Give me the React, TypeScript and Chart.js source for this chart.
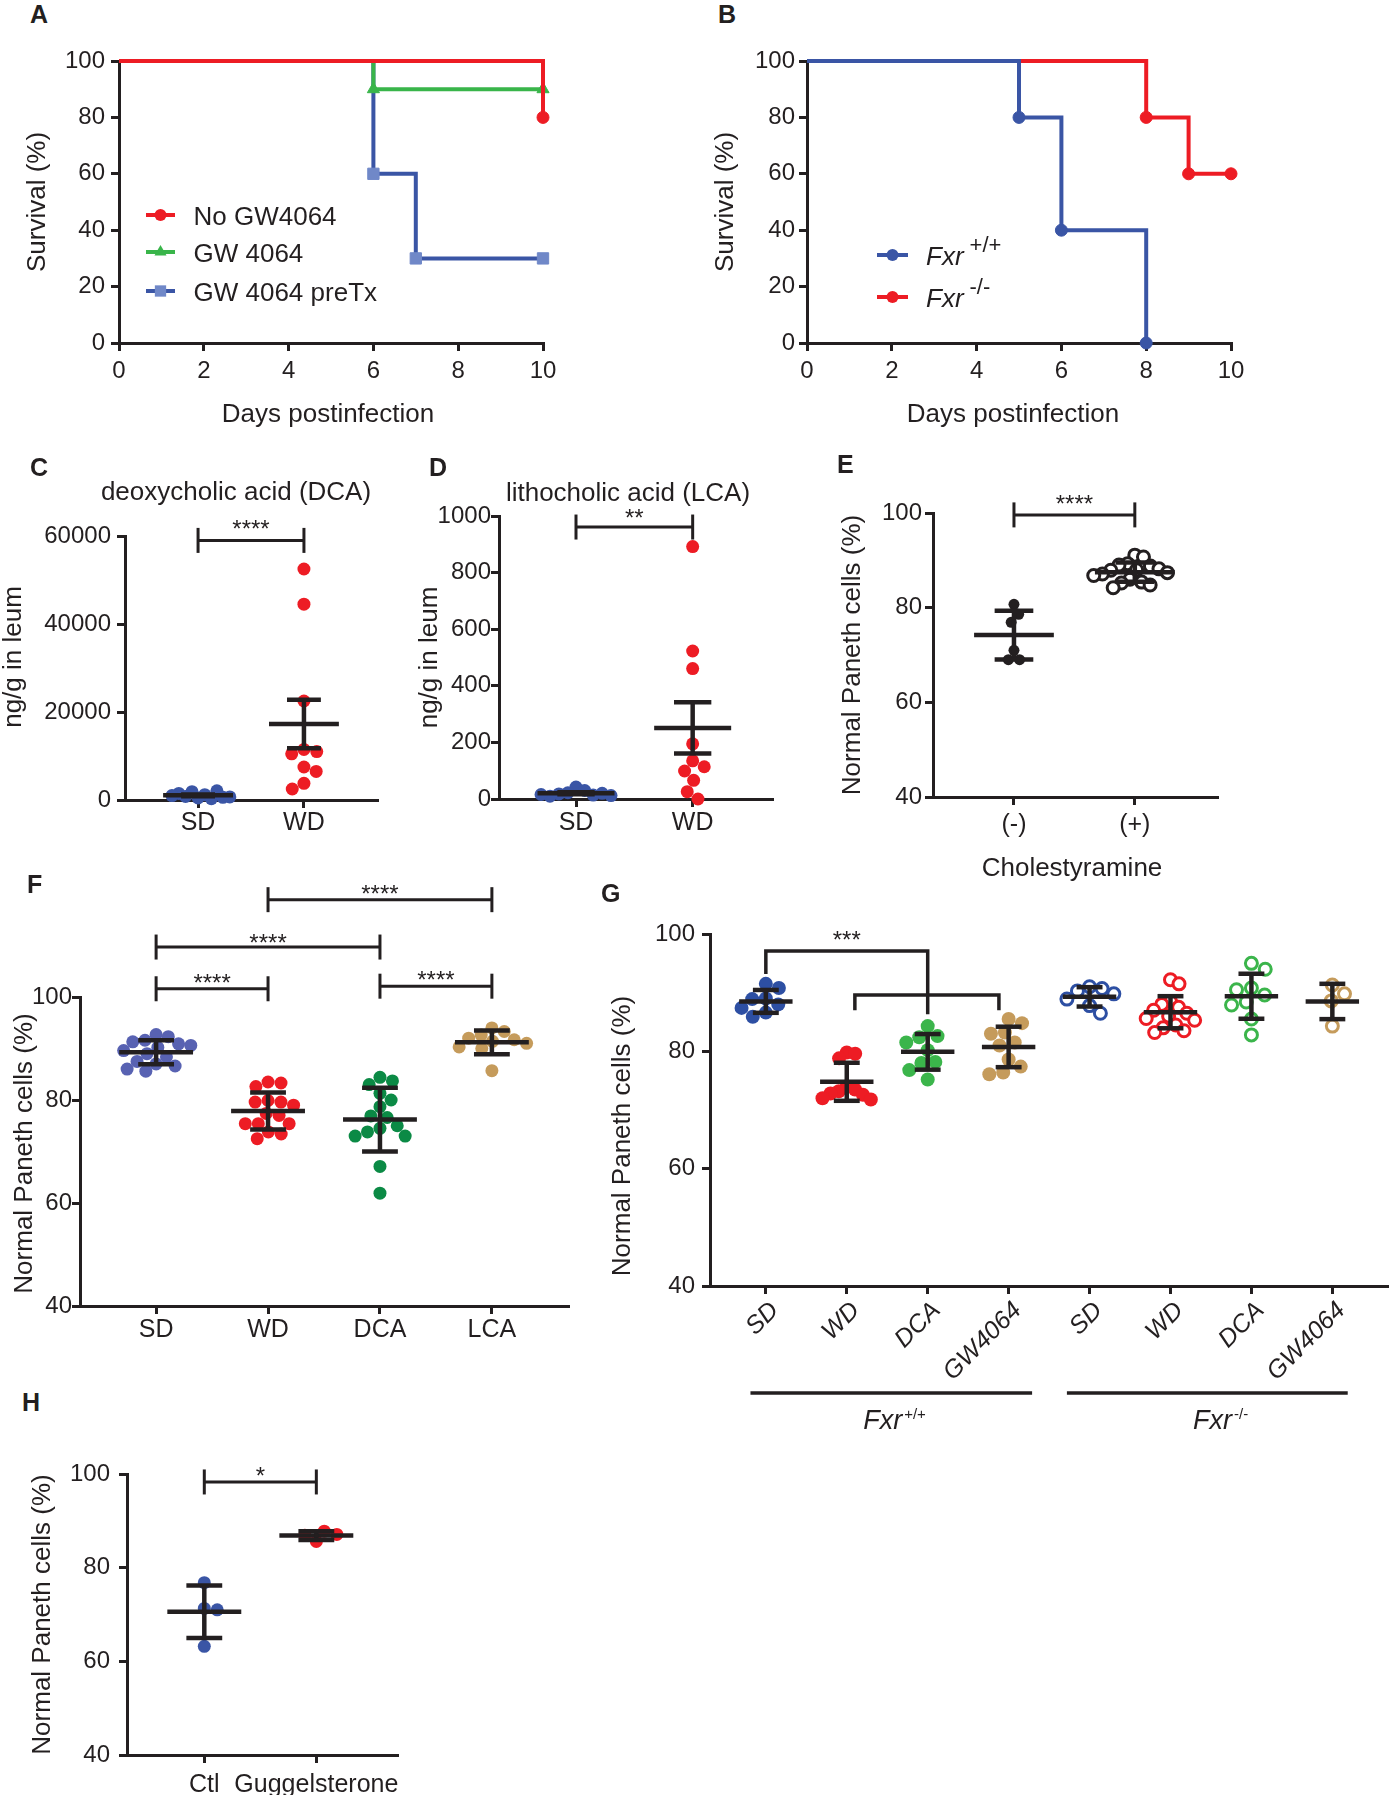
import React, { useEffect, useRef } from "react";
import { Chart, registerables } from "chart.js";

Chart.register(...registerables);

const FONT = '"Liberation Sans", Arial, Helvetica, sans-serif';
const INK = "#231f20";
const RED = "#ed1c24";
const BLUE = "#3a55a5";
const GREEN = "#39b54a";
const SQUARE_BLUE = "#7088c8";
const SLATE = "#5862b2";
const DGREEN = "#0b8a45";
const TAN = "#c59b5b";
const GBLUE = "#2d4fa3";
const GGREEN = "#3bb54b";

// ---------------- data ----------------
// A: survival with GW4064
const daysNoGW = [0, 10];
const survNoGW = [100, 80];
const daysGW = [0, 6, 10];
const survGW = [100, 90, 90];
const daysPreTx = [0, 6, 7, 10];
const survPreTx = [100, 60, 30, 30];
const namesA = ["No GW4064", "GW 4064", "GW 4064 preTx"];
// B: survival by genotype
const daysFxrWT = [0, 5, 6, 8];
const survFxrWT = [100, 80, 40, 0];
const daysFxrKO = [0, 8, 9, 10];
const survFxrKO = [100, 80, 60, 60];
const genotypeSup = ["+/+", "-/-"];
const dayTicks = [0, 2, 4, 6, 8, 10];
const survTicks = [0, 20, 40, 60, 80, 100];
// C: DCA
const dietCats = ["SD", "WD"];
const dcaSD = [450, 1200, 1900, 800, 300, 1500, 2100, 600, 1000, 700];
const dcaWD = [52500, 44500, 22500, 11500, 11000, 10500, 7500, 6500, 3800, 2500];
const dcaTicks = [0, 20000, 40000, 60000];
// D: LCA
const lcaSD = [42, 30, 22, 18, 14, 20, 10, 16, 12];
const lcaWD = [892, 523, 461, 195, 135, 114, 99, 66, 26, 0];
const lcaTicks = [0, 200, 400, 600, 800, 1000];
// E: cholestyramine
const cholCats = ["(-)", "(+)"];
const cholMinus = [80.7, 78.6, 76.9, 71.0, 69.0, 69.0];
const cholPlus = [91.1, 90.7, 89.3, 89.0, 88.8, 88.2, 88.0, 87.9, 87.4, 87.1, 86.8, 86.0, 85.4, 85.2, 84.8, 84.2];
const pctTicks = [40, 60, 80, 100];
// F
const fCats = ["SD", "WD", "DCA", "LCA"];
const fSD = [92.7, 92.3, 91.6, 91.3, 90.9, 90.6, 90.2, 89.6, 89.0, 88.4, 87.5, 87.0, 86.6, 86.0, 85.6];
const fWD = [83.5, 83.3, 82.6, 79.9, 79.6, 79.6, 79.0, 77.4, 77.0, 75.4, 75.4, 75.4, 73.8, 73.4, 72.5];
const fDCA = [84.4, 83.7, 83.0, 81.3, 80.0, 78.7, 76.9, 76.6, 75.0, 74.5, 73.8, 73.0, 73.0, 67.1, 61.9];
const fLCA = [94.0, 93.3, 92.6, 92.0, 91.7, 91.4, 91.0, 90.3, 90.0, 85.7];
// G
const gCats = ["SD", "WD", "DCA", "GW4064", "SD", "WD", "DCA", "GW4064"];
const gWtSD = [91.5, 90.8, 89.0, 88.9, 88.0, 87.4, 86.6, 85.9];
const gWtWD = [79.8, 79.6, 78.8, 74.0, 73.5, 73.2, 72.8, 72.6, 72.0, 71.8];
const gWtDCA = [84.3, 82.6, 82.4, 81.5, 80.2, 78.2, 78.0, 76.8, 75.2];
const gWtGW = [85.5, 84.8, 83.2, 83.0, 81.5, 81.0, 78.6, 77.4, 76.4, 76.1];
const gKoSD = [91.0, 90.7, 90.3, 89.8, 88.9, 87.8, 86.5];
const gKoWD = [92.2, 91.5, 88.5, 88.0, 87.5, 87.0, 86.5, 86.0, 85.6, 85.3, 84.5, 84.0, 83.5, 83.2];
const gKoDCA = [95.0, 94.0, 90.8, 90.5, 89.6, 88.4, 87.9, 85.5, 82.8];
const gKoGW = [91.3, 89.8, 88.6, 84.3];
const gGroupLabels = ["Fxr", "Fxr"];
const gBracketTop = 97.1;
const gBracketLow = 89.6;
// H
const hCats = ["Ctl", "Guggelsterone"];
const hCtl = [76.8, 71.3, 71.0, 63.2];
const hGug = [85.6, 87.8, 86.9, 87.1];

// ---------------- helpers ----------------
type Rect = { l: number; t: number; r: number; b: number };

function stats(v: number[]) {
  const n = v.length;
  const mean = v.reduce((s, x) => s + x, 0) / n;
  const sd = Math.sqrt(v.reduce((s, x) => s + (x - mean) * (x - mean), 0) / (n - 1));
  return { mean, sd, sem: sd / Math.sqrt(n) };
}

function line(ctx: any, x1: number, y1: number, x2: number, y2: number) {
  ctx.beginPath();
  ctx.moveTo(x1, y1);
  ctx.lineTo(x2, y2);
  ctx.stroke();
}

function marker(ctx: any, style: string, x: number, y: number, r: number, color: string) {
  ctx.fillStyle = color;
  ctx.beginPath();
  if (style === "rect") {
    const s = r * Math.SQRT1_2;
    ctx.rect(x - s, y - s, 2 * s, 2 * s);
  } else if (style === "triangle") {
    let a = 0;
    ctx.moveTo(x + Math.sin(a) * r, y - Math.cos(a) * r);
    a += (2 * Math.PI) / 3;
    ctx.lineTo(x + Math.sin(a) * r, y - Math.cos(a) * r);
    a += (2 * Math.PI) / 3;
    ctx.lineTo(x + Math.sin(a) * r, y - Math.cos(a) * r);
    ctx.closePath();
  } else {
    ctx.arc(x, y, r, 0, Math.PI * 2);
  }
  ctx.fill();
}

function axisStyle() {
  return {
    border: { display: true, color: INK, width: 3 },
    grid: { display: true, drawOnChartArea: false, drawTicks: true, tickLength: 8, color: INK, lineWidth: 3 },
  };
}

function yTitle(chart: any, text: string, dx: number, dy: number) {
  const ctx = chart.ctx;
  const a = chart.chartArea;
  ctx.save();
  ctx.translate(a.left + dx, (a.top + a.bottom) / 2 + dy);
  ctx.rotate(-Math.PI / 2);
  ctx.font = `26px ${FONT}`;
  ctx.fillStyle = INK;
  ctx.textAlign = "center";
  ctx.textBaseline = "middle";
  ctx.fillText(text, 0, 0);
  ctx.restore();
}

function plainText(ctx: any, text: string, x: number, y: number, font: string, align = "center") {
  ctx.font = font;
  ctx.fillStyle = INK;
  ctx.textAlign = align;
  ctx.textBaseline = "alphabetic";
  ctx.fillText(text, x, y);
}

function supText(ctx: any, main: string, sup: string, x: number, y: number, size: number, supSize: number, raise: number, align: string, gap = 2) {
  ctx.textBaseline = "alphabetic";
  ctx.font = `italic ${size}px ${FONT}`;
  const w1 = ctx.measureText(main).width;
  ctx.font = `${supSize}px ${FONT}`;
  const w2 = ctx.measureText(sup).width;
  const x0 = align === "center" ? x - (w1 + w2 + gap) / 2 : x;
  ctx.fillStyle = INK;
  ctx.textAlign = "left";
  ctx.font = `italic ${size}px ${FONT}`;
  ctx.fillText(main, x0, y);
  ctx.font = `${supSize}px ${FONT}`;
  ctx.fillText(sup, x0 + w1 + gap, y - raise);
}

// beeswarm: horizontal offsets (px) so that dots do not collide
function swarm(pys: number[], d: number): number[] {
  const placed: { x: number; y: number }[] = [];
  const out: number[] = [];
  let side = 1;
  for (const y of pys) {
    const iv: [number, number][] = [];
    for (const p of placed) {
      const dy = Math.abs(p.y - y);
      if (dy < d) {
        const w = Math.sqrt(d * d - dy * dy);
        iv.push([p.x - w, p.x + w]);
      }
    }
    const cands = [0];
    iv.forEach(([lo, hi]) => cands.push(lo, hi));
    const free = (x: number) => iv.every(([lo, hi]) => x <= lo + 1e-6 || x >= hi - 1e-6);
    let best = Infinity;
    for (const c of cands) {
      if (!free(c)) continue;
      const ac = Math.abs(c);
      const ab = Math.abs(best);
      if (ac < ab - 1e-6 || (Math.abs(ac - ab) <= 1e-6 && Math.sign(c) === side)) best = c;
    }
    if (best !== 0) side = -Math.sign(best);
    placed.push({ x: best, y });
    out.push(best);
  }
  return out;
}

// ---------------- survival panels ----------------
type Surv = { days: number[]; surv: number[]; color: string; marker: string; mColor: string; r: number };
type SurvSpec = { area: Rect; m: Rect; yW: number; xH: number; yPad: number; series: Surv[]; xTitleDx: number; legend: (c: any) => void };

const seriesA: Surv[] = [
  { days: daysNoGW, surv: survNoGW, color: RED, marker: "circle", mColor: RED, r: 6 },
  { days: daysGW, surv: survGW, color: GREEN, marker: "triangle", mColor: GREEN, r: 7 },
  { days: daysPreTx, surv: survPreTx, color: BLUE, marker: "rect", mColor: SQUARE_BLUE, r: 8 },
];
const seriesB: Surv[] = [
  { days: daysFxrWT, surv: survFxrWT, color: BLUE, marker: "circle", mColor: BLUE, r: 6 },
  { days: daysFxrKO, surv: survFxrKO, color: RED, marker: "circle", mColor: RED, r: 6 },
];

function legendA(chart: any) {
  const ctx = chart.ctx;
  const a = chart.chartArea;
  const rows = [154, 191, 230];
  seriesA.forEach((s, i) => {
    const y = a.top + rows[i];
    ctx.strokeStyle = s.color;
    ctx.lineWidth = 4;
    line(ctx, a.left + 27, y, a.left + 56, y);
    marker(ctx, s.marker, a.left + 41.5, y, s.r, s.mColor);
    plainText(ctx, namesA[i], a.left + 74.5, y + 10, `26px ${FONT}`, "left");
  });
}

function legendB(chart: any) {
  const ctx = chart.ctx;
  const a = chart.chartArea;
  const rows = [194, 236];
  seriesB.forEach((s, i) => {
    const y = a.top + rows[i];
    ctx.strokeStyle = s.color;
    ctx.lineWidth = 4;
    line(ctx, a.left + 70, y, a.left + 101, y);
    marker(ctx, s.marker, a.left + 85.5, y, s.r, s.mColor);
    supText(ctx, "Fxr", genotypeSup[i], a.left + 119, y + 10, 26, 22, 13, "left", 6);
  });
}

const specA: SurvSpec = {
  area: { l: 119, t: 61, r: 543, b: 343 }, m: { l: 115, t: 25, r: 40, b: 95 }, yW: 60, xH: 50, yPad: 6,
  series: seriesA, xTitleDx: 209, legend: legendA,
};
const specB: SurvSpec = {
  area: { l: 807, t: 61, r: 1231, b: 343 }, m: { l: 110, t: 25, r: 40, b: 95 }, yW: 60, xH: 50, yPad: 4,
  series: seriesB, xTitleDx: 206, legend: legendB,
};

function survConfig(sp: SurvSpec) {
  return {
    type: "line",
    data: {
      datasets: sp.series.map((s) => ({
        data: s.days.map((d, i) => ({ x: d, y: s.surv[i] })),
        borderColor: s.color,
        borderWidth: 4,
        stepped: "before",
        fill: false,
        tension: 0,
        pointStyle: s.marker,
        pointRadius: (c: any) => (c.dataIndex === 0 ? 0 : s.r),
        pointHoverRadius: (c: any) => (c.dataIndex === 0 ? 0 : s.r),
        pointBackgroundColor: s.mColor,
        pointBorderColor: s.mColor,
        pointBorderWidth: 1,
        clip: false,
      })),
    },
    options: {
      responsive: false,
      animation: false,
      devicePixelRatio: 1,
      events: [],
      layout: { padding: { left: sp.m.l - sp.yW, top: sp.m.t, right: sp.m.r, bottom: sp.m.b - sp.xH } },
      plugins: { legend: { display: false }, tooltip: { enabled: false }, title: { display: false } },
      scales: {
        x: {
          type: "linear", min: 0, max: 10, bounds: "data", ...axisStyle(),
          afterBuildTicks: (ax: any) => { ax.ticks = dayTicks.map((v) => ({ value: v })); },
          afterFit: (ax: any) => { ax.height = sp.xH; },
          ticks: { padding: 6, color: INK, font: { family: FONT, size: 24 }, callback: (v: any) => String(v) },
        },
        y: {
          type: "linear", min: 0, max: 100, bounds: "data", ...axisStyle(),
          afterBuildTicks: (ax: any) => { ax.ticks = survTicks.map((v) => ({ value: v })); },
          afterFit: (ax: any) => { ax.width = sp.yW; },
          ticks: { padding: sp.yPad, color: INK, font: { family: FONT, size: 24 }, callback: (v: any) => String(v) },
        },
      },
    },
    plugins: [
      {
        id: "survDecor",
        afterDraw: (chart: any) => {
          const ctx = chart.ctx;
          const a = chart.chartArea;
          ctx.save();
          yTitle(chart, "Survival (%)", -81, 0);
          plainText(ctx, "Days postinfection", a.left + sp.xTitleDx, a.bottom + 79, `26px ${FONT}`);
          sp.legend(chart);
          ctx.restore();
        },
      },
    ],
  };
}

// ---------------- column scatter panels ----------------
type Group = { values: number[]; color: string; r: number; open?: boolean };
type Bracket = { a: number; b: number; y: number; label: string; dy: number };
type ColSpec = {
  area: Rect; m: Rect; yW: number; xH: number;
  yMin: number; yMax: number; yTicks: number[]; yPad: number;
  cats: string[]; xMin: number; xMax: number; xPad: number; rot?: number; italic?: boolean; labelOffset?: number;
  groups: Group[]; err: "sd" | "sem"; spread?: number;
  yTitle: string; yTitleDx: number; yTitleDy: number;
  brackets: Bracket[];
  topTitle?: { text: string; dx: number; dy: number };
  xTitle?: { text: string; dx: number; dy: number };
  extra?: (c: any) => void;
};

function colConfig(s: ColSpec) {
  return {
    type: "scatter",
    data: {
      datasets: s.groups.map((g, i) => ({
        data: g.values.map((v) => ({ x: i, y: v })),
        pointRadius: g.r,
        pointHoverRadius: g.r,
        pointBackgroundColor: g.open ? "#ffffff" : g.color,
        pointBorderColor: g.color,
        pointBorderWidth: g.open ? 3 : 0,
        showLine: false,
        clip: false,
      })),
    },
    options: {
      responsive: false,
      animation: false,
      devicePixelRatio: 1,
      events: [],
      layout: { padding: { left: s.m.l - s.yW, top: s.m.t, right: s.m.r, bottom: s.m.b - s.xH } },
      plugins: { legend: { display: false }, tooltip: { enabled: false }, title: { display: false } },
      scales: {
        x: {
          type: "linear", min: s.xMin, max: s.xMax, bounds: "data", ...axisStyle(),
          afterBuildTicks: (ax: any) => { ax.ticks = s.cats.map((_, i) => ({ value: i })); },
          afterFit: (ax: any) => { ax.height = s.xH; },
          ticks: {
            autoSkip: false, padding: s.xPad, color: INK, labelOffset: s.labelOffset || 0,
            font: { family: FONT, size: 25, style: s.italic ? "italic" : "normal" },
            minRotation: s.rot || 0, maxRotation: s.rot || 0,
            callback: (v: any) => (s.cats[v] !== undefined ? s.cats[v] : ""),
          },
        },
        y: {
          type: "linear", min: s.yMin, max: s.yMax, bounds: "data", ...axisStyle(),
          afterBuildTicks: (ax: any) => { ax.ticks = s.yTicks.map((v) => ({ value: v })); },
          afterFit: (ax: any) => { ax.width = s.yW; },
          ticks: { padding: s.yPad, color: INK, font: { family: FONT, size: 24 }, callback: (v: any) => String(v) },
        },
      },
    },
    plugins: [{ id: "colDecor", afterDraw: (chart: any) => colDecor(chart, s) }],
  };
}

function colDecor(chart: any, s: ColSpec) {
  const ctx = chart.ctx;
  const a = chart.chartArea;
  const xs = chart.scales.x;
  const ys = chart.scales.y;
  ctx.save();
  ctx.strokeStyle = INK;
  ctx.lineCap = "butt";
  s.groups.forEach((g, i) => {
    const st = stats(g.values);
    const e = s.err === "sd" ? st.sd : st.sem;
    const cx = xs.getPixelForValue(i);
    const hw = xs.getPixelForValue(i + 0.33) - cx;
    const cw = xs.getPixelForValue(i + 0.16) - cx;
    const yM = ys.getPixelForValue(st.mean);
    const yT = ys.getPixelForValue(st.mean + e);
    const yB = ys.getPixelForValue(st.mean - e);
    ctx.lineWidth = 4.5;
    line(ctx, cx - hw, yM, cx + hw, yM);
    line(ctx, cx, yT, cx, yB);
    line(ctx, cx - cw, yT, cx + cw, yT);
    line(ctx, cx - cw, yB, cx + cw, yB);
  });
  for (const b of s.brackets) {
    const x1 = xs.getPixelForValue(b.a);
    const x2 = xs.getPixelForValue(b.b);
    const y = ys.getPixelForValue(b.y);
    ctx.lineWidth = 3;
    line(ctx, x1, y, x2, y);
    line(ctx, x1, y - 12.5, x1, y + 12.5);
    line(ctx, x2, y - 12.5, x2, y + 12.5);
    plainText(ctx, b.label, (x1 + x2) / 2, y + b.dy, `24px ${FONT}`);
  }
  yTitle(chart, s.yTitle, s.yTitleDx, s.yTitleDy);
  if (s.topTitle) plainText(ctx, s.topTitle.text, a.left + s.topTitle.dx, a.top + s.topTitle.dy, `26px ${FONT}`);
  if (s.xTitle) plainText(ctx, s.xTitle.text, a.left + s.xTitle.dx, a.bottom + s.xTitle.dy, `26px ${FONT}`);
  if (s.extra) s.extra(chart);
  ctx.restore();
}

function applySwarm(chart: any, s: ColSpec) {
  const xs = chart.scales.x;
  const ys = chart.scales.y;
  const unit = xs.getPixelForValue(1) - xs.getPixelForValue(0);
  s.groups.forEach((g, i) => {
    const pys = g.values.map((v) => ys.getPixelForValue(v));
    const dia = 2 * (g.r + (g.open ? 1.5 : 0));
    let offs = swarm(pys, dia);
    const maxHalf = (s.spread || 0.3) * unit;
    const mx = Math.max(...offs.map((o) => Math.abs(o)));
    if (mx > maxHalf) offs = offs.map((o) => (o * maxHalf) / mx);
    chart.data.datasets[i].data = g.values.map((v, j) => ({ x: i + offs[j] / unit, y: v }));
  });
  chart.update("none");
}

function gExtra(chart: any) {
  const ctx = chart.ctx;
  const a = chart.chartArea;
  const xs = chart.scales.x;
  const ys = chart.scales.y;
  const X = (v: number) => xs.getPixelForValue(v);
  const Y = (v: number) => ys.getPixelForValue(v);
  ctx.strokeStyle = INK;
  ctx.lineWidth = 3.5;
  ctx.lineJoin = "miter";
  ctx.beginPath();
  ctx.moveTo(X(0), Y(93.2));
  ctx.lineTo(X(0), Y(gBracketTop));
  ctx.lineTo(X(2), Y(gBracketTop));
  ctx.lineTo(X(2), Y(86.3));
  ctx.stroke();
  ctx.beginPath();
  ctx.moveTo(X(1.1), Y(87.0));
  ctx.lineTo(X(1.1), Y(gBracketLow));
  ctx.lineTo(X(2.88), Y(gBracketLow));
  ctx.lineTo(X(2.88), Y(87.0));
  ctx.stroke();
  plainText(ctx, "***", X(1), Y(gBracketTop) - 3, `24px ${FONT}`);
  // genotype underlines
  const uy = a.bottom + 107;
  line(ctx, X(-0.19), uy, X(3.29), uy);
  line(ctx, X(3.72), uy, X(7.19), uy);
  supText(ctx, gGroupLabels[0], genotypeSup[0], X(1.59), a.bottom + 143, 27, 15, 10, "center");
  supText(ctx, gGroupLabels[1], genotypeSup[1], X(5.62), a.bottom + 143, 27, 15, 10, "center");
}

const specC: ColSpec = {
  area: { l: 125, t: 536, r: 377, b: 800 }, m: { l: 125, t: 70, r: 20, b: 50 }, yW: 85, xH: 45,
  yMin: 0, yMax: 60000, yTicks: dcaTicks, yPad: 6,
  cats: dietCats, xMin: -0.69, xMax: 1.69, xPad: 0,
  groups: [{ values: dcaSD, color: BLUE, r: 6.5 }, { values: dcaWD, color: RED, r: 6.5 }],
  err: "sem", yTitle: "ng/g in leum", yTitleDx: -111, yTitleDy: -11,
  brackets: [{ a: 0, b: 1, y: 59000, label: "****", dy: -3 }],
  topTitle: { text: "deoxycholic acid (DCA)", dx: 111, dy: -36 },
};

const specD: ColSpec = {
  area: { l: 499, t: 516, r: 772, b: 799 }, m: { l: 87, t: 45, r: 20, b: 50 }, yW: 62, xH: 45,
  yMin: 0, yMax: 1000, yTicks: lcaTicks, yPad: 0,
  cats: dietCats, xMin: -0.66, xMax: 1.68, xPad: 1,
  groups: [{ values: lcaSD, color: BLUE, r: 6.5 }, { values: lcaWD, color: RED, r: 6.5 }],
  err: "sem", yTitle: "ng/g in leum", yTitleDx: -69, yTitleDy: 0,
  brackets: [{ a: 0, b: 1, y: 961, label: "**", dy: -1 }],
  topTitle: { text: "lithocholic acid (LCA)", dx: 129, dy: -15 },
};

const specE: ColSpec = {
  area: { l: 933, t: 513, r: 1217, b: 797 }, m: { l: 100, t: 40, r: 20, b: 95 }, yW: 52, xH: 45,
  yMin: 40, yMax: 100, yTicks: pctTicks, yPad: 3,
  cats: cholCats, xMin: -0.67, xMax: 1.68, xPad: 5, spread: 0.34,
  groups: [{ values: cholMinus, color: INK, r: 5.5 }, { values: cholPlus, color: INK, r: 6, open: true }],
  err: "sd", yTitle: "Normal Paneth cells (%)", yTitleDx: -80, yTitleDy: 0,
  brackets: [{ a: 0, b: 1, y: 99.6, label: "****", dy: -3 }],
  xTitle: { text: "Cholestyramine", dx: 139, dy: 79 },
};

const specF: ColSpec = {
  area: { l: 80, t: 997, r: 568, b: 1306 }, m: { l: 75, t: 130, r: 20, b: 50 }, yW: 48, xH: 45,
  yMin: 40, yMax: 100, yTicks: pctTicks, yPad: 0,
  cats: fCats, xMin: -0.68, xMax: 3.68, xPad: 1, spread: 0.31,
  groups: [
    { values: fSD, color: SLATE, r: 6.5 },
    { values: fWD, color: RED, r: 6.5 },
    { values: fDCA, color: DGREEN, r: 6.5 },
    { values: fLCA, color: TAN, r: 6.5 },
  ],
  err: "sd", yTitle: "Normal Paneth cells (%)", yTitleDx: -55, yTitleDy: 2,
  brackets: [
    { a: 1, b: 3, y: 118.9, label: "****", dy: 2 },
    { a: 0, b: 2, y: 109.7, label: "****", dy: 4 },
    { a: 0, b: 1, y: 101.6, label: "****", dy: 2 },
    { a: 2, b: 3, y: 102.1, label: "****", dy: 2 },
  ],
};

const specG: ColSpec = {
  area: { l: 710, t: 934, r: 1389, b: 1286 }, m: { l: 102, t: 30, r: 10, b: 155 }, yW: 55, xH: 95,
  yMin: 40, yMax: 100, yTicks: pctTicks, yPad: 7,
  cats: gCats, xMin: -0.69, xMax: 7.7, xPad: 2, rot: 45, italic: true, labelOffset: 9, spread: 0.3,
  groups: [
    { values: gWtSD, color: GBLUE, r: 7 },
    { values: gWtWD, color: RED, r: 7 },
    { values: gWtDCA, color: GGREEN, r: 7 },
    { values: gWtGW, color: TAN, r: 7 },
    { values: gKoSD, color: GBLUE, r: 6, open: true },
    { values: gKoWD, color: RED, r: 6, open: true },
    { values: gKoDCA, color: GGREEN, r: 6, open: true },
    { values: gKoGW, color: TAN, r: 6, open: true },
  ],
  err: "sd", yTitle: "Normal Paneth cells (%)", yTitleDx: -87, yTitleDy: 26,
  brackets: [],
  extra: gExtra,
};

const specH: ColSpec = {
  area: { l: 127, t: 1474, r: 397, b: 1755 }, m: { l: 105, t: 30, r: 30, b: 45 }, yW: 58, xH: 40,
  yMin: 40, yMax: 100, yTicks: pctTicks, yPad: 9,
  cats: hCats, xMin: -0.69, xMax: 1.72, xPad: 7, spread: 0.3,
  groups: [{ values: hCtl, color: BLUE, r: 6.5 }, { values: hGug, color: RED, r: 6.5 }],
  err: "sd", yTitle: "Normal Paneth cells (%)", yTitleDx: -84, yTitleDy: 0,
  brackets: [{ a: 0, b: 1, y: 98.3, label: "*", dy: 2 }],
};

const panelLetters = [
  { ch: "A", x: 30, y: 2 },
  { ch: "B", x: 718, y: 2 },
  { ch: "C", x: 30, y: 455 },
  { ch: "D", x: 429, y: 455 },
  { ch: "E", x: 837, y: 452 },
  { ch: "F", x: 27, y: 872 },
  { ch: "G", x: 601, y: 881 },
  { ch: "H", x: 22, y: 1390 },
];

function Panel({ area, m, make, after }: { area: Rect; m: Rect; make: () => any; after?: (c: any) => void }) {
  const ref = useRef<HTMLCanvasElement>(null);
  const w = area.r - area.l + m.l + m.r;
  const h = area.b - area.t + m.t + m.b;
  useEffect(() => {
    const chart = new Chart(ref.current as HTMLCanvasElement, make());
    if (after) after(chart);
    return () => chart.destroy();
  }, []);
  return (
    <canvas
      ref={ref}
      width={w}
      height={h}
      style={{ position: "absolute", left: area.l - m.l, top: area.t - m.t, width: w, height: h, display: "block" }}
    />
  );
}

export default function App() {
  const cols = [specC, specD, specE, specF, specG, specH];
  return (
    <div style={{ position: "absolute", left: 0, top: 0, width: 1389, height: 1800, overflow: "hidden", background: "#ffffff" }}>
      <Panel area={specA.area} m={specA.m} make={() => survConfig(specA)} />
      <Panel area={specB.area} m={specB.m} make={() => survConfig(specB)} />
      {cols.map((s, i) => (
        <Panel key={i} area={s.area} m={s.m} make={() => colConfig(s)} after={(c) => applySwarm(c, s)} />
      ))}
      {panelLetters.map((p) => (
        <div
          key={p.ch}
          style={{ position: "absolute", left: p.x, top: p.y, font: `bold 25px/1 ${FONT}`, color: INK }}
        >
          {p.ch}
        </div>
      ))}
    </div>
  );
}
